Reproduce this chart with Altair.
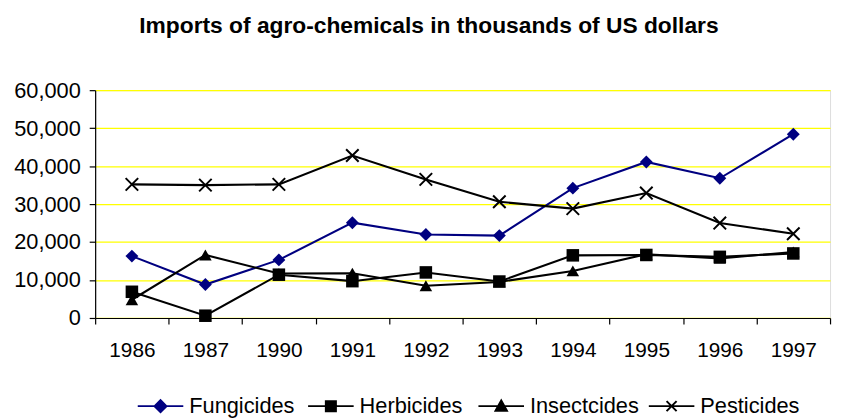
import altair as alt
import pandas as pd

years = ["1986", "1987", "1990", "1991", "1992", "1993", "1994", "1995", "1996", "1997"]
series_names = ["Fungicides", "Herbicides", "Insectcides", "Pesticides"]
fungicides = [16300, 8800, 15300, 25100, 22000, 21700, 34200, 41100, 36800, 48400]
herbicides = [6900, 600, 11400, 9700, 12000, 9600, 16500, 16600, 16100, 17000]
insecticides = [4800, 16600, 11700, 11800, 8500, 9500, 12400, 16800, 15700, 17400]
pesticides = [35200, 35000, 35200, 42800, 36500, 30600, 28800, 32900, 25000, 22200]
y_ticks = [0, 10000, 20000, 30000, 40000, 50000, 60000]
title_text = "Imports of agro-chemicals in thousands of US dollars"

rows = []
for name, vals in zip(series_names, [fungicides, herbicides, insecticides, pesticides]):
    for yr, v in zip(years, vals):
        rows.append({"Year": yr, "Series": name, "Value": v})
df = pd.DataFrame(rows)

FONT = "Liberation Sans"
line_colors = ["#000080", "#000000", "#000000", "#000000"]
fill_colors = ["#000080", "#000000", "#000000", "transparent"]

X_PATH = "M-1,-1L1,1M-1,1L1,-1"
legend_paths = [
    "M-1,0H1M-0.26,0L0,-0.26L0.26,0L0,0.26Z",
    "M-1,0H1M-0.22,-0.22H0.22V0.22H-0.22Z",
    "M-1,0H1M0,-0.25L0.25,0.2H-0.25Z",
    "M-1,0H1M-0.22,-0.22L0.22,0.22M-0.22,0.22L0.22,-0.22",
]

x_enc = alt.X(
    "Year:N",
    sort=years,
    scale=alt.Scale(type="band", paddingInner=0, paddingOuter=0),
    axis=alt.Axis(
        title=None, tickBand="extent", labelAngle=0, labelFontSize=21,
        labelFont=FONT, labelColor="black", labelPadding=16, tickSize=6,
        domainColor="black", tickColor="black", domainWidth=1.2, tickWidth=1.2,
        grid=False,
    ),
)
y_enc = alt.Y(
    "Value:Q",
    scale=alt.Scale(domain=[0, 60000], nice=False),
    axis=alt.Axis(
        title=None, values=y_ticks, format=",.0f", labelFontSize=22, labelFont=FONT,
        labelColor="black", labelPadding=9, tickSize=6, domainColor="black",
        tickColor="black", domainWidth=1.2, tickWidth=1.2,
        grid=True, gridColor="#FFFF00", gridWidth=1.3,
    ),
)

color_scale = alt.Scale(domain=series_names, range=line_colors)

legend_spec = alt.Legend(
    title=None, orient="none", direction="horizontal",
    legendX=42, legendY=295, labelFontSize=22, labelFont=FONT,
    labelColor="black", symbolOpacity=1, symbolStrokeWidth=2,
    symbolSize=2116, columnPadding=5, labelOffset=5, padding=0,
    gridAlign="all",
)

base = alt.Chart(df)

lines = base.mark_line(strokeWidth=2.1).encode(
    x=x_enc, y=y_enc,
    color=alt.Color("Series:N", scale=color_scale, sort=series_names),
    detail="Series:N",
)

marker_specs = [
    ("Fungicides", "diamond", 170, True, "#000080"),
    ("Herbicides", "square", 160, True, "#000000"),
    ("Insectcides", "triangle-up", 160, True, "#000000"),
    ("Pesticides", X_PATH, 160, False, "#000000"),
]
marker_layers = []
for name, shape, size, filled, col in marker_specs:
    marker_layers.append(
        base.transform_filter(alt.datum.Series == name).mark_point(
            shape=shape, size=size, filled=filled, color=col, opacity=1,
            strokeWidth=2 if not filled else 1,
        ).encode(x=x_enc, y=y_enc)
    )

legend_layer = base.mark_point(opacity=0, size=2116, strokeWidth=2).encode(
    x=x_enc, y=y_enc,
    color=alt.Color("Series:N", scale=color_scale, sort=series_names, legend=legend_spec),
    shape=alt.Shape("Series:N", scale=alt.Scale(domain=series_names, range=legend_paths),
                    sort=series_names, legend=legend_spec),
    fill=alt.Fill("Series:N", scale=alt.Scale(domain=series_names, range=fill_colors),
                  sort=series_names, legend=legend_spec),
)

chart = alt.layer(lines, *marker_layers, legend_layer).properties(
    width=742,
    height=230,
    title=alt.TitleParams(
        text=title_text, font=FONT, fontSize=23, fontWeight="bold",
        color="black", anchor="middle", dx=-34, offset=42,
    ),
    autosize=alt.AutoSizeParams(type="none"),
    padding={"left": 88, "top": 81, "right": 5, "bottom": 99},
).configure_view(
    stroke=None
).configure(background="white")

chart.save("out.html", embed_options={"renderer": "svg", "actions": False})
